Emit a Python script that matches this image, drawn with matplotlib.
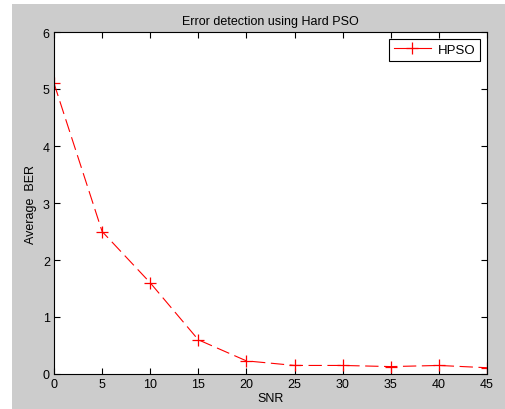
import matplotlib
matplotlib.use('Agg')
import matplotlib.pyplot as plt
from matplotlib.patches import Rectangle

plt.rcParams['font.family'] = ['Liberation Sans', 'DejaVu Sans']

snr = [0, 5, 10, 15, 20, 25, 30, 35, 40, 45]
ber = [5.1, 2.5, 1.6, 0.6, 0.23, 0.15, 0.15, 0.13, 0.15, 0.11]

fig = plt.figure(figsize=(5.06, 4.10), dpi=100)
fig.patch.set_facecolor('white')
# gray MATLAB-style figure background
fig.patches.append(Rectangle((12 / 506, 0), 1 - 12 / 506, 1 - 5 / 410,
                             transform=fig.transFigure, facecolor='#cccccc',
                             edgecolor='none', zorder=-10))

ax = fig.add_axes([54 / 506, 1 - 375 / 410, (487 - 54) / 506, (375 - 33) / 410])
ax.plot(snr, ber, color='red', linestyle=(0, (12, 5)), linewidth=0.8,
        marker='+', markersize=8, markeredgewidth=0.9, label='HPSO')

ax.set_xlim(0, 45)
ax.set_ylim(0, 6)
ax.set_xticks(range(0, 46, 5))
ax.set_yticks(range(0, 7))
ax.tick_params(direction='in', length=4, labelsize=9, top=True, right=True,
               width=0.8, pad=3)
for s in ax.spines.values():
    s.set_linewidth(0.8)
ax.set_xlabel('SNR', fontsize=9, labelpad=1)
ax.set_ylabel('Average  BER', fontsize=9, labelpad=4)
ax.set_title('Error detection using Hard PSO', fontsize=9, pad=6)

leg = ax.legend(loc='upper right', fontsize=9.5, fancybox=False, framealpha=1,
                edgecolor='black', handlelength=2.8, handletextpad=0.5,
                borderaxespad=0.5, borderpad=0.4)
leg.get_frame().set_linewidth(0.8)
for h in leg.legend_handles:
    h.set_linestyle('-')

fig.savefig('out.png', dpi=100)
